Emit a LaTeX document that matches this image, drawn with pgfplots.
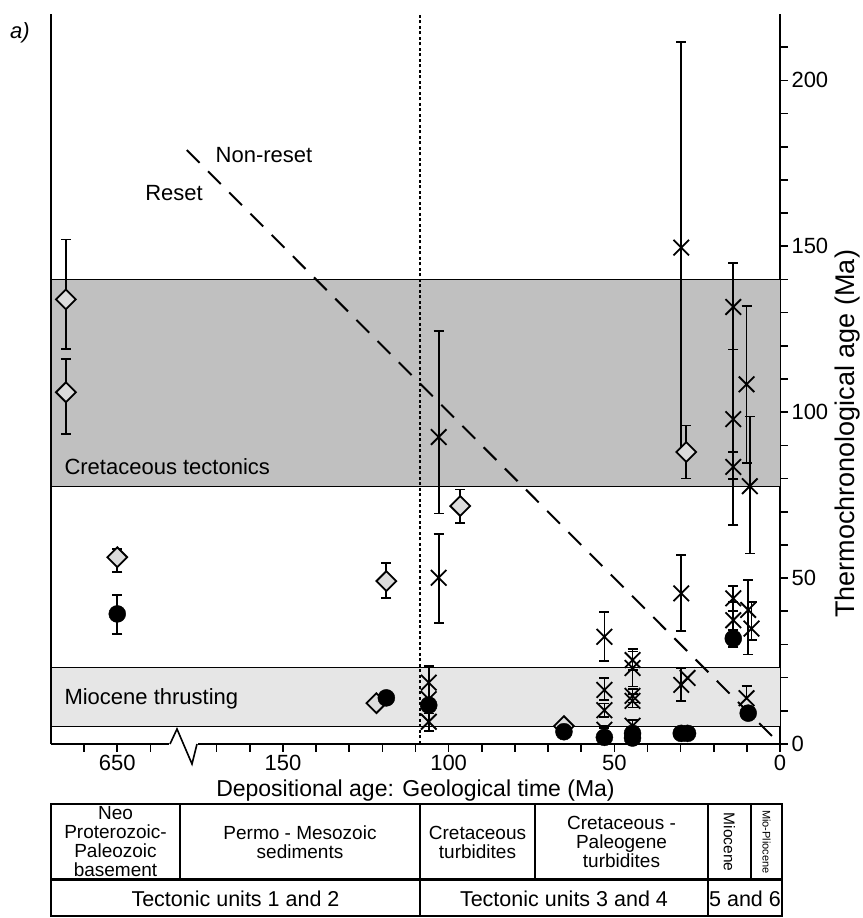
\documentclass[border=0pt]{standalone}
\usepackage{pgfplots}
\pgfplotsset{compat=1.18}
\usepackage{pgfplotstable}
\usepackage{fontspec}
\setmainfont{Liberation Sans}
\definecolor{darkband}{HTML}{C0C0C0}
\definecolor{lightband}{HTML}{E6E6E6}
\definecolor{diafill}{HTML}{DCDCDC}

% x = depositional age (Ma) on the broken axis; the basement samples
% (Neo-Proterozoic, ~650 Ma) are drawn left of the break (650 Ma -> 200)
\pgfplotstableread{
x y ep em
200 39.2 5.7 6.1
14.1 31.8 2.5 2.5
53 2.0 2.8 0
44.5 3.2 4.0 0
}\circbar
\pgfplotstableread{
x y
118.8 13.9
106 11.7
65.2 3.7
44.5 1.8
29.8 3.2
27.9 3.2
9.6 9.3
}\circnobar
\pgfplotstableread{
x y ep em
215.5 134 18 15
215.5 106 10 12.5
200 56.3 2.5 4.5
118.8 49.1 5.5 5
96.5 71.7 5 5
28.3 88 8 8
}\diabar
\pgfplotstableread{
x y
121.8 12.3
65.2 5.4
}\dianobar
\pgfplotstableread{
x y ep em
106 18.5 5 5
106 6.7 2.5 2.7
103 92.5 32 23
103 50.1 13.2 13.6
53 32.3 7.4 7.2
53 16.3 3.5 3
53 10.2 2 2
44.5 25.3 3.3 3
44.5 22.9 5 5.6
44.5 14.5 2 2
44.5 13 2 2
29.8 149.6 62 61.6
29.8 45.4 11.5 11.4
29.8 17.8 5 4.8
14.1 131.7 13.3 12.8
14.1 97.9 21 32
14.1 83.5 4.5 3.6
10.1 108.4 23.5 23.7
9.1 77.7 21 20.3
14.1 43.9 3.8 3.8
14.1 37.3 5.5 5.5
9.6 40.4 9 13.4
8.6 34.8 8 3.5
}\crossbar
\pgfplotstableread{
x y ep
44.5 5.5 1.7
53 4.3 1.2
10.1 13.8 3.7
}\crossplus
\pgfplotstableread{
x y
106 13.5
27.9 19.9
}\crossnobar

\pgfplotsset{
  ebar/.style={error bars/.cd, y dir=#1, y explicit,
    error bar style={line width=1.7pt, black},
    error mark options={rotate=90, line width=1.7pt, mark size=5pt, black}},
  crossmark/.style={only marks, mark=x, mark size=11pt, mark options={line width=1.8pt, black}},
  diamark/.style={only marks, mark=square*, mark size=7pt, mark options={rotate=45, fill=diafill, draw=black, line width=1.8pt}},
  circmark/.style={only marks, mark=*, mark size=8.5pt, mark options={fill=black, draw=black}},
}

\begin{document}
\begin{tikzpicture}
\begin{axis}[
  at={(51pt,174pt)}, anchor=south west,
  scale only axis, width=729pt, height=730pt,
  x dir=reverse,
  xmin=0, xmax=220, ymin=0, ymax=220,
  axis x line=bottom, axis y line=right,
  axis line style={-, line width=1.8pt},
  clip=false,
  xtick={0,50,100,150,200}, xticklabels={0,50,100,150,650},
  minor xtick={10,20,30,40,60,70,80,90,110,120,130,140,160,170,190,210},
  ytick={0,50,100,150,200},
  minor ytick={10,20,30,40,60,70,80,90,110,120,130,140,160,170,180,190,210},
  tick align=outside,
  major tick length=8pt, minor tick length=8pt,
  tick style={line width=1.6pt, black},
  /pgf/number format/assume math mode=true,
  tick label style={font=\fontsize{22}{22}\selectfont},
  xticklabel style={inner sep=2.5pt},
  xlabel={Depositional age: Geological time (Ma)},
  xlabel style={at={(axis description cs:0.5,0)}, anchor=base, yshift=-53pt, font=\fontsize{23}{24}\selectfont},
  ylabel={Thermochronological age (Ma)},
  ylabel style={at={(axis description cs:1.093,0.425)}, anchor=center, font=\fontsize{27}{28}\selectfont},
]
% bands
\addplot[draw=none, fill=darkband, forget plot] coordinates {(0,77.7) (220,77.7) (220,140) (0,140) (0,77.7)};
\addplot[draw=none, fill=lightband, forget plot] coordinates {(0,5.3) (220,5.3) (220,23) (0,23) (0,5.3)};
\addplot[black, line width=1.2pt, forget plot] coordinates {(0,140) (220,140)};
\addplot[black, line width=1.2pt, forget plot] coordinates {(0,77.7) (220,77.7)};
\addplot[black, line width=1.2pt, forget plot] coordinates {(0,23) (220,23)};
\addplot[black, line width=1.2pt, forget plot] coordinates {(0,5.3) (220,5.3)};
% reset / non-reset line and boundary
\addplot[black, line width=2pt, dash pattern=on 18pt off 12pt, forget plot] coordinates {(179,179) (0,0)};
\addplot[black, line width=2pt, dash pattern=on 3pt off 2.5pt, forget plot] coordinates {(108.5,0) (108.5,220)};
% left axis line
\draw[line width=1.8pt] (rel axis cs:0,0) -- (rel axis cs:0,1);
% diamonds
\addplot[diamark, ebar=both]
  table[x=x, y=y, y error plus=ep, y error minus=em] {\diabar};
\addplot[diamark] table[x=x, y=y] {\dianobar};
% crosses
\addplot[crossmark, ebar=both]
  table[x=x, y=y, y error plus=ep, y error minus=em] {\crossbar};
\addplot[crossmark, ebar=plus]
  table[x=x, y=y, y error plus=ep] {\crossplus};
\addplot[crossmark] table[x=x, y=y] {\crossnobar};
% circles
\addplot[circmark, ebar=both]
  table[x=x, y=y, y error plus=ep, y error minus=em] {\circbar};
\addplot[circmark] table[x=x, y=y] {\circnobar};
\end{axis}

% axis break
\fill[white] (169pt,171.5pt) rectangle (198pt,176.5pt);
\draw[line width=1.6pt, line join=miter] (170pt,174pt) -- (177pt,189pt) -- (192pt,154pt) -- (197pt,174pt);

% annotations
\begin{scope}[font=\fontsize{22}{22}\selectfont]
\node[anchor=west] at (61pt,451pt) {Cretaceous tectonics};
\node[anchor=west] at (61pt,219pt) {Miocene thrusting};
\node at (264pt,763pt) {Non-reset};
\node at (174pt,725pt) {Reset};
\node[font=\fontsize{22}{22}\selectfont\itshape] at (20pt,885pt) {a)};
\end{scope}

% table
\draw[line width=2pt] (51pt,1.5pt) rectangle (782pt,114pt);
\draw[line width=3pt] (51pt,38pt) -- (782pt,38pt);
\foreach \xx in {180,420,535,708,751} \draw[line width=1.6pt] (\xx pt,38pt) -- (\xx pt,114pt);
\foreach \xx in {420,708} \draw[line width=1.6pt] (\xx pt,1.5pt) -- (\xx pt,38pt);
\begin{scope}[font=\fontsize{19}{19}\selectfont]
\node[align=center] at (115.5pt,76pt) {Neo\\Proterozoic-\\Paleozoic\\basement};
\node[align=center] at (300pt,76pt) {Permo - Mesozoic\\sediments};
\node[align=center] at (477.5pt,76pt) {Cretaceous\\turbidites};
\node[align=center] at (621.5pt,76pt) {Cretaceous -\\Paleogene\\turbidites};
\node[rotate=-90, font=\fontsize{15.5}{16}\selectfont] at (729.5pt,76pt) {Miocene};
\node[rotate=-90, font=\fontsize{11}{11}\selectfont] at (766.5pt,76pt) {Mio-Pliocene};
\end{scope}
\begin{scope}[font=\fontsize{21.5}{21.5}\selectfont]
\node at (235.5pt,19.5pt) {Tectonic units 1 and 2};
\node at (564pt,19.5pt) {Tectonic units 3 and 4};
\node at (745pt,19.5pt) {5 and 6};
\end{scope}

\pgfresetboundingbox
\useasboundingbox (0pt,0pt) rectangle (862pt,918pt);
\end{tikzpicture}
\end{document}
